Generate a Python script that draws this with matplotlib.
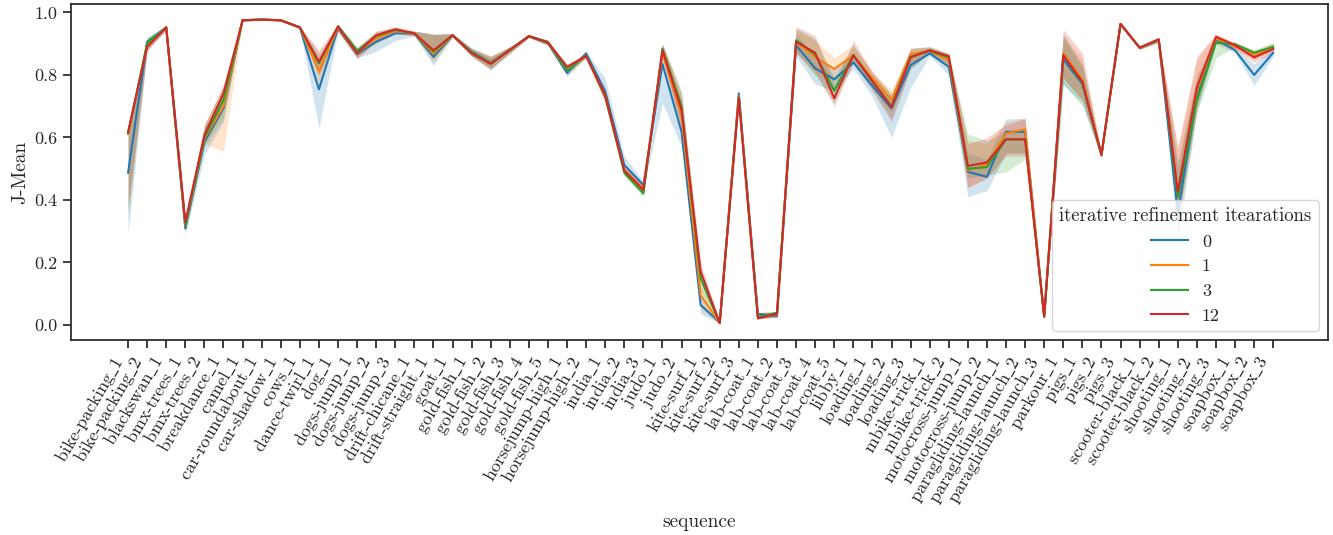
import matplotlib
matplotlib.use("Agg")
import matplotlib.pyplot as plt

sequences = [
    "bike-packing_1", "bike-packing_2", "blackswan_1", "bmx-trees_1", "bmx-trees_2",
    "breakdance_1", "camel_1", "car-roundabout_1", "car-shadow_1", "cows_1",
    "dance-twirl_1", "dog_1", "dogs-jump_1", "dogs-jump_2", "dogs-jump_3",
    "drift-chicane_1", "drift-straight_1", "goat_1", "gold-fish_1", "gold-fish_2",
    "gold-fish_3", "gold-fish_4", "gold-fish_5", "horsejump-high_1", "horsejump-high_2",
    "india_1", "india_2", "india_3", "judo_1", "judo_2",
    "kite-surf_1", "kite-surf_2", "kite-surf_3", "lab-coat_1", "lab-coat_2",
    "lab-coat_3", "lab-coat_4", "lab-coat_5", "libby_1", "loading_1",
    "loading_2", "loading_3", "mbike-trick_1", "mbike-trick_2", "motocross-jump_1",
    "motocross-jump_2", "paragliding-launch_1", "paragliding-launch_2", "paragliding-launch_3", "parkour_1",
    "pigs_1", "pigs_2", "pigs_3", "scooter-black_1", "scooter-black_2",
    "shooting_1", "shooting_2", "shooting_3", "soapbox_1", "soapbox_2",
    "soapbox_3",
]

iterations = ["0", "1", "3", "12"]
colors = ["#1f77b4", "#ff7f0e", "#2ca02c", "#d62728"]

# mean J per sequence, one list per number of refinement iterations
jmean_0 = [0.487, 0.906, 0.952, 0.309, 0.586, 0.694, 0.975, 0.977, 0.975, 0.952,
           0.754, 0.950, 0.867, 0.906, 0.933, 0.933, 0.858, 0.927, 0.874, 0.840,
           0.879, 0.924, 0.902, 0.807, 0.869, 0.746, 0.512, 0.448, 0.835, 0.618,
           0.064, 0.008, 0.741, 0.035, 0.029, 0.895, 0.821, 0.786, 0.840, 0.765,
           0.693, 0.831, 0.869, 0.826, 0.490, 0.474, 0.618, 0.618, 0.027, 0.850,
           0.771, 0.544, 0.963, 0.887, 0.910, 0.360, 0.730, 0.914, 0.879, 0.800,
           0.871]
jmean_1 = [0.612, 0.897, 0.952, 0.318, 0.596, 0.700, 0.975, 0.977, 0.975, 0.952,
           0.812, 0.952, 0.870, 0.918, 0.940, 0.933, 0.868, 0.927, 0.870, 0.838,
           0.879, 0.924, 0.904, 0.815, 0.862, 0.728, 0.496, 0.437, 0.870, 0.672,
           0.096, 0.006, 0.733, 0.025, 0.035, 0.905, 0.858, 0.819, 0.863, 0.790,
           0.720, 0.866, 0.877, 0.847, 0.494, 0.515, 0.613, 0.626, 0.027, 0.870,
           0.785, 0.544, 0.963, 0.887, 0.912, 0.420, 0.750, 0.917, 0.890, 0.864,
           0.885]
jmean_3 = [0.613, 0.902, 0.952, 0.320, 0.600, 0.720, 0.975, 0.977, 0.975, 0.952,
           0.837, 0.956, 0.877, 0.925, 0.944, 0.933, 0.875, 0.927, 0.872, 0.836,
           0.880, 0.924, 0.906, 0.815, 0.862, 0.732, 0.487, 0.421, 0.885, 0.700,
           0.149, 0.006, 0.730, 0.025, 0.039, 0.911, 0.866, 0.749, 0.863, 0.780,
           0.700, 0.858, 0.877, 0.856, 0.500, 0.505, 0.594, 0.594, 0.027, 0.862,
           0.775, 0.544, 0.963, 0.887, 0.914, 0.410, 0.720, 0.903, 0.898, 0.871,
           0.890]
jmean_12 = [0.617, 0.890, 0.952, 0.330, 0.607, 0.741, 0.975, 0.977, 0.975, 0.952,
            0.842, 0.954, 0.869, 0.927, 0.946, 0.933, 0.879, 0.927, 0.869, 0.835,
            0.880, 0.924, 0.904, 0.826, 0.860, 0.735, 0.494, 0.432, 0.879, 0.688,
            0.171, 0.006, 0.725, 0.021, 0.036, 0.906, 0.871, 0.725, 0.863, 0.780,
            0.696, 0.856, 0.879, 0.860, 0.509, 0.520, 0.594, 0.594, 0.027, 0.863,
            0.778, 0.544, 0.963, 0.887, 0.914, 0.426, 0.760, 0.922, 0.895, 0.856,
            0.883]

# 95% confidence interval bounds for each series
ci_low_0 = [0.290, 0.880, 0.945, 0.290, 0.545, 0.650, 0.972, 0.975, 0.972, 0.948,
            0.630, 0.940, 0.855, 0.875, 0.910, 0.925, 0.830, 0.922, 0.860, 0.815,
            0.870, 0.920, 0.895, 0.795, 0.860, 0.720, 0.490, 0.435, 0.710, 0.570,
            0.035, 0.004, 0.720, 0.020, 0.025, 0.860, 0.770, 0.750, 0.820, 0.730,
            0.600, 0.760, 0.860, 0.800, 0.410, 0.430, 0.550, 0.550, 0.020, 0.770,
            0.710, 0.535, 0.958, 0.882, 0.905, 0.270, 0.680, 0.900, 0.870, 0.767,
            0.860]
ci_high_0 = [0.620, 0.920, 0.958, 0.330, 0.630, 0.740, 0.978, 0.979, 0.978, 0.956,
             0.830, 0.962, 0.885, 0.925, 0.945, 0.940, 0.930, 0.932, 0.885, 0.855,
             0.890, 0.928, 0.910, 0.820, 0.875, 0.790, 0.540, 0.460, 0.870, 0.700,
             0.090, 0.010, 0.745, 0.040, 0.042, 0.930, 0.860, 0.820, 0.870, 0.790,
             0.720, 0.870, 0.885, 0.860, 0.550, 0.530, 0.660, 0.660, 0.035, 0.920,
             0.830, 0.550, 0.968, 0.892, 0.918, 0.500, 0.790, 0.925, 0.890, 0.835,
             0.885]
ci_low_1 = [0.370, 0.880, 0.945, 0.300, 0.580, 0.555, 0.972, 0.975, 0.972, 0.948,
            0.770, 0.940, 0.855, 0.900, 0.930, 0.925, 0.840, 0.922, 0.860, 0.820,
            0.870, 0.920, 0.895, 0.800, 0.855, 0.710, 0.480, 0.425, 0.850, 0.620,
            0.050, 0.004, 0.720, 0.020, 0.025, 0.870, 0.800, 0.780, 0.835, 0.760,
            0.680, 0.830, 0.870, 0.820, 0.440, 0.470, 0.550, 0.550, 0.020, 0.790,
            0.720, 0.535, 0.958, 0.882, 0.905, 0.320, 0.700, 0.900, 0.880, 0.850,
            0.875]
ci_high_1 = [0.630, 0.915, 0.958, 0.335, 0.640, 0.760, 0.978, 0.979, 0.978, 0.956,
             0.860, 0.962, 0.885, 0.935, 0.950, 0.940, 0.930, 0.932, 0.885, 0.860,
             0.890, 0.928, 0.910, 0.830, 0.870, 0.750, 0.510, 0.450, 0.900, 0.730,
             0.130, 0.010, 0.745, 0.040, 0.042, 0.945, 0.910, 0.855, 0.895, 0.810,
             0.750, 0.885, 0.890, 0.865, 0.590, 0.580, 0.650, 0.665, 0.035, 0.930,
             0.850, 0.550, 0.968, 0.892, 0.918, 0.560, 0.850, 0.930, 0.900, 0.880,
             0.900]
ci_low_3 = [0.340, 0.885, 0.945, 0.300, 0.570, 0.660, 0.972, 0.975, 0.972, 0.948,
            0.800, 0.940, 0.860, 0.910, 0.935, 0.925, 0.850, 0.922, 0.860, 0.820,
            0.870, 0.920, 0.895, 0.800, 0.855, 0.715, 0.475, 0.410, 0.860, 0.640,
            0.110, 0.004, 0.720, 0.020, 0.025, 0.875, 0.800, 0.710, 0.840, 0.750,
            0.660, 0.820, 0.870, 0.830, 0.470, 0.480, 0.490, 0.530, 0.020, 0.770,
            0.700, 0.535, 0.958, 0.882, 0.905, 0.320, 0.680, 0.855, 0.890, 0.860,
            0.880]
ci_high_3 = [0.630, 0.920, 0.958, 0.340, 0.640, 0.765, 0.978, 0.979, 0.978, 0.956,
             0.870, 0.962, 0.890, 0.940, 0.952, 0.940, 0.930, 0.932, 0.885, 0.860,
             0.890, 0.928, 0.910, 0.830, 0.870, 0.755, 0.500, 0.435, 0.900, 0.750,
             0.180, 0.010, 0.745, 0.040, 0.042, 0.950, 0.915, 0.790, 0.895, 0.805,
             0.740, 0.885, 0.890, 0.870, 0.610, 0.590, 0.620, 0.630, 0.035, 0.930,
             0.830, 0.550, 0.968, 0.892, 0.918, 0.520, 0.800, 0.915, 0.905, 0.880,
             0.905]
ci_low_12 = [0.370, 0.875, 0.945, 0.310, 0.580, 0.690, 0.972, 0.975, 0.972, 0.948,
             0.800, 0.940, 0.850, 0.910, 0.935, 0.925, 0.855, 0.922, 0.860, 0.820,
             0.870, 0.920, 0.895, 0.810, 0.855, 0.715, 0.480, 0.420, 0.855, 0.630,
             0.140, 0.004, 0.720, 0.020, 0.025, 0.870, 0.810, 0.700, 0.840, 0.750,
             0.650, 0.820, 0.870, 0.835, 0.440, 0.470, 0.540, 0.540, 0.020, 0.790,
             0.720, 0.535, 0.958, 0.882, 0.905, 0.330, 0.700, 0.905, 0.885, 0.840,
             0.870]
ci_high_12 = [0.630, 0.905, 0.958, 0.345, 0.640, 0.770, 0.978, 0.979, 0.978, 0.956,
              0.880, 0.962, 0.885, 0.940, 0.955, 0.940, 0.930, 0.932, 0.885, 0.860,
              0.890, 0.928, 0.910, 0.835, 0.868, 0.760, 0.510, 0.445, 0.900, 0.740,
              0.200, 0.010, 0.745, 0.040, 0.042, 0.955, 0.925, 0.770, 0.910, 0.810,
              0.735, 0.885, 0.890, 0.870, 0.580, 0.600, 0.640, 0.660, 0.035, 0.945,
              0.870, 0.550, 0.968, 0.892, 0.918, 0.570, 0.860, 0.930, 0.905, 0.875,
              0.900]

means = [jmean_0, jmean_1, jmean_3, jmean_12]
lows = [ci_low_0, ci_low_1, ci_low_3, ci_low_12]
highs = [ci_high_0, ci_high_1, ci_high_3, ci_high_12]

dark = "#262626"
plt.rcParams.update({
    "font.family": "serif",
    "font.serif": ["cmr10"],
    "mathtext.fontset": "cm",
    "axes.formatter.use_mathtext": True,
    "axes.unicode_minus": False,
    "axes.edgecolor": dark,
    "axes.linewidth": 1.25,
    "axes.labelcolor": dark,
    "text.color": dark,
    "xtick.color": dark,
    "ytick.color": dark,
    "xtick.major.size": 6,
    "ytick.major.size": 6,
    "xtick.major.width": 1.25,
    "ytick.major.width": 1.25,
    "xtick.direction": "out",
    "ytick.direction": "out",
})


def tex_label(name):
    # cmr10 has no underscore glyph, so typeset it the TeX way
    return name.replace("_", r"$\_$")


fig = plt.figure(figsize=(13.33, 5.35), dpi=100)
ax = fig.add_axes([71 / 1333, 1 - 340 / 535, (1328 - 71) / 1333, (340 - 4.3) / 535])

x = list(range(len(sequences)))
for label, color, m, lo, hi in zip(iterations, colors, means, lows, highs):
    ax.plot(x, m, color=color, lw=1.5, label=label)
    ax.fill_between(x, lo, hi, color=color, alpha=0.2, linewidth=0)

ax.set_xlim(-2.99, 62.87)
ax.set_ylim(-0.048, 1.026)
ax.set_yticks([0.0, 0.2, 0.4, 0.6, 0.8, 1.0])
ax.set_yticklabels(["0.0", "0.2", "0.4", "0.6", "0.8", "1.0"], fontsize=13)
ax.set_xticks(x)
ax.set_xticklabels([tex_label(s) for s in sequences], rotation=60, ha="right", fontsize=13)
ax.set_xlabel("sequence", fontsize=14)
ax.set_ylabel("J-Mean", fontsize=14)

leg = ax.legend(title="iterative refinement itearations", loc="lower right",
                fontsize=13, title_fontsize=13.5)

fig.savefig("out.png", dpi=100)
